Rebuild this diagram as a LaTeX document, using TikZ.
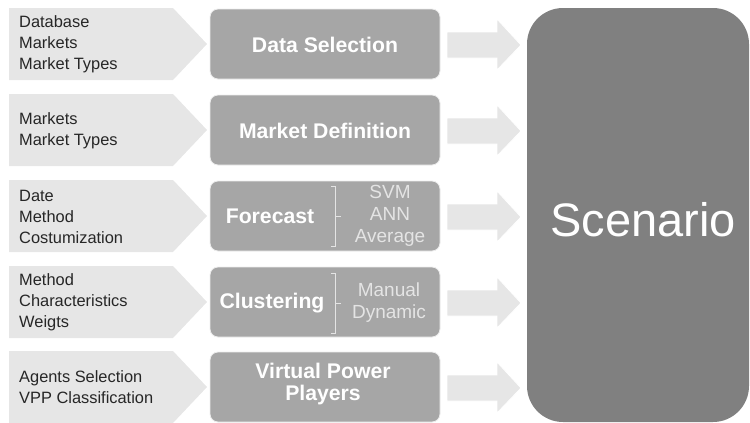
\documentclass[tikz,border=0pt]{standalone}
\usepackage{fontspec}
\setmainfont{Liberation Sans}
\definecolor{penta}{HTML}{E6E6E6}
\definecolor{boxgray}{HTML}{A6A6A6}
\definecolor{scen}{HTML}{808080}
\definecolor{lefttxt}{HTML}{262626}
\definecolor{subtxt}{HTML}{E4E4E4}
\begin{document}
\begin{tikzpicture}[x=1pt,y=-1pt,
  pentashape/.style={fill=penta,draw=none},
  stagebox/.style={fill=boxgray,draw=white!93!black,line width=0.8pt,rounded corners=8pt},
  blockarrow/.style={fill=penta,draw=white,line width=0.8pt},
  lefttext/.style={anchor=west,align=left,text=lefttxt,inner sep=0pt,font=\fontsize{16.4}{21}\selectfont},
  titletext/.style={align=center,text=white,inner sep=0pt,font=\fontsize{21.2}{21.5}\selectfont\bfseries},
  subtext/.style={align=center,text=subtxt,inner sep=0pt,font=\fontsize{19}{22}\selectfont},
  brack/.style={draw=subtxt,line width=0.9pt}
]
\useasboundingbox (0,0) rectangle (750,423);
% rows
\foreach \c in {44,130,216,302,387}{
  \fill[pentashape] (9,\c-36) -- (173,\c-36) -- (207,\c) -- (173,\c+36) -- (9,\c+36) -- cycle;
  \draw[stagebox] (210,\c-35) rectangle (440,\c+35);
  \draw[blockarrow] (447,\c-12) -- (497,\c-12) -- (497,\c-25) -- (521,\c+1) -- (497,\c+26) -- (497,\c+14) -- (447,\c+14) -- cycle;
}
% scenario
\fill[scen,rounded corners=36pt] (527,8) rectangle (749,422);
\node[text=white,inner sep=0pt,font=\fontsize{47}{47}\selectfont] (scen) at (643,220) {Scenario};
% left texts
\node[lefttext] (l1) at (19,44) {Database\\Markets\\Market Types};
\node[lefttext] (l2) at (19,131) {Markets\\Market Types};
\node[lefttext] (l3) at (19,217) {Date\\Method\\Costumization};
\node[lefttext] (l4) at (19,302) {Method\\Characteristics\\Weigts};
\node[lefttext] (l5) at (19,387) {Agents Selection\\VPP Classification};
% titles
\node[titletext] (t1) at (325,45) {Data Selection};
\node[titletext] (t2) at (325,131) {Market Definition};
\node[titletext] (t3) at (270,216) {Forecast};
\node[titletext] (t4) at (272,303) {Clustering};
\node[titletext] (t5) at (323,384) {Virtual Power\\Players};
% forecast bracket and items
\draw[brack] (331,186) -- (335,186) -- (335,246) -- (331,246);
\draw[brack] (335,216) -- (341,216);
\node[subtext] (s3) at (390,216) {SVM\\ANN\\Average};
% clustering bracket and items
\draw[brack] (331,273) -- (335,273) -- (335,333) -- (331,333);
\draw[brack] (335,303) -- (341,303);
\node[subtext] (s4) at (389,303) {Manual\\Dynamic};
\end{tikzpicture}
\end{document}
